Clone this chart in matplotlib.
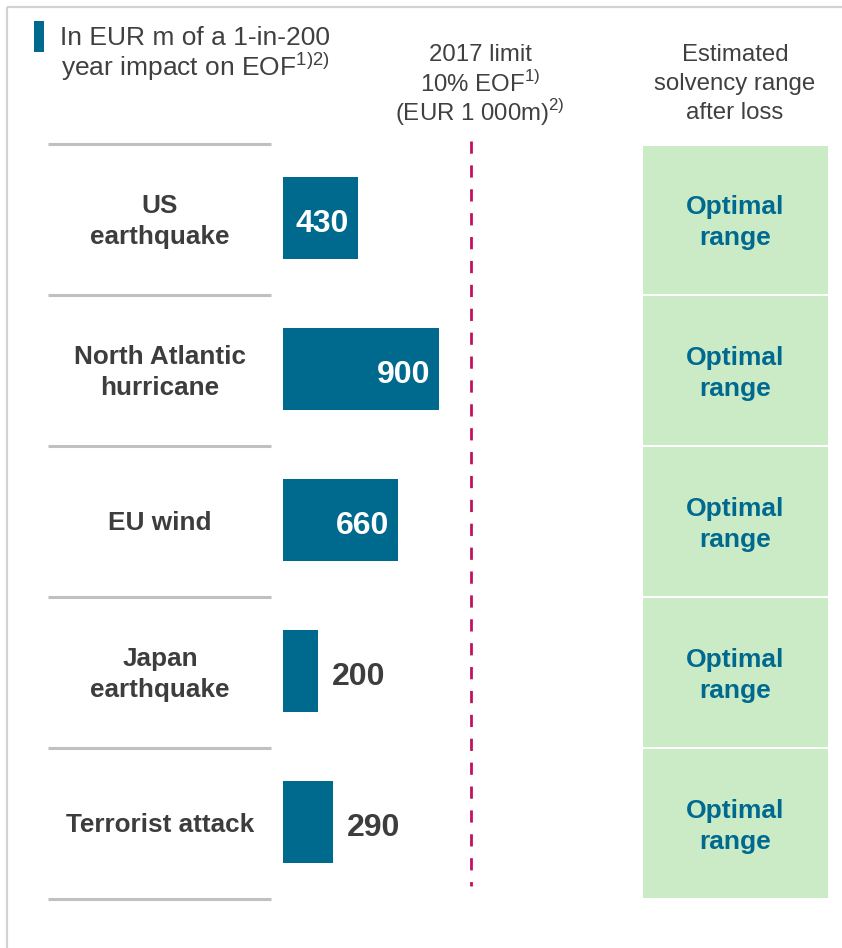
import matplotlib
matplotlib.use("Agg")
import matplotlib.pyplot as plt
from matplotlib.patches import Rectangle

# ---- data -------------------------------------------------------------
categories = ["US\nearthquake", "North Atlantic\nhurricane", "EU wind",
              "Japan\nearthquake", "Terrorist attack"]
impact_eur_m = [430, 900, 660, 200, 290]
solvency_range = ["Optimal\nrange"] * 5
limit_eur_m = 1000

# ---- styling ----------------------------------------------------------
plt.rcParams["font.family"] = ["Liberation Sans", "DejaVu Sans"]
plt.rcParams["mathtext.fontset"] = "custom"
plt.rcParams["mathtext.rm"] = "Liberation Sans"

BAR = "#006a8e"
GREEN = "#cbeac6"
TEAL_TXT = "#00698f"
DARK = "#3d3d3d"
HEAD = "#404040"
GREY_LINE = "#c0c0c0"
LIMIT = "#c2125e"

W, H = 842, 948
fig = plt.figure(figsize=(W / 100, H / 100), dpi=100)

# overlay in pixel coordinates for the layout elements
ov = fig.add_axes([0, 0, 1, 1])
ov.set_xlim(0, W)
ov.set_ylim(H, 0)
ov.axis("off")

# panel frame (top and left edges)
ov.plot([7, W], [7, 7], color="#d2d2d2", lw=1.6, solid_capstyle="butt")
ov.plot([7, 7], [7, H], color="#d2d2d2", lw=1.6, solid_capstyle="butt")

# rows
row_top, row_pitch = 144, 151
n = len(categories)
row_centers = [row_top + row_pitch * (i + 0.5) for i in range(n)]

# header texts
ov.add_patch(Rectangle((34, 21), 10, 31, color=BAR, lw=0))
header_left = ["In EUR m of a 1-in-200",
               r"year impact on EOF$^{\mathregular{1)2)}}$"]
for k, line in enumerate(header_left):
    ov.text(195, 38 + 29 * k, line, ha="center", va="center",
            fontsize=19, color=HEAD)
header_mid = ["2017 limit", r"10% EOF$^{\mathregular{1)}}$",
              r"(EUR 1 000m)$^{\mathregular{2)}}$"]
for k, line in enumerate(header_mid):
    ov.text(480, 55 + 29 * k, line, ha="center", va="center",
            fontsize=17.3, color=HEAD)
header_right = ["Estimated", "solvency range", "after loss"]
for k, line in enumerate(header_right):
    ov.text(735, 55 + 29 * k, line, ha="center", va="center",
            fontsize=17.3, color=HEAD)

# separators between rows
for i in range(n + 1):
    y = row_top + row_pitch * i
    ov.plot([48, 271], [y, y], color=GREY_LINE, lw=2.2, solid_capstyle="butt")

# category labels
for yc, cat in zip(row_centers, categories):
    ov.text(160, yc + 2, cat, ha="center", va="center", fontsize=18.8,
            fontweight="bold", color=DARK, linespacing=1.42)

# solvency-range boxes
for i, (yc, lab) in enumerate(zip(row_centers, solvency_range)):
    top = row_top + row_pitch * i + (2 if i == 0 else 1.3)
    bot = row_top + row_pitch * (i + 1) - 1.3
    ov.add_patch(Rectangle((643, top), 185, bot - top, color=GREEN, lw=0))
    ov.text(735, yc + 3, lab, ha="center", va="center", fontsize=19,
            fontweight="bold", color=TEAL_TXT, linespacing=1.42)

# limit line
ov.plot([471, 471], [141, 886], color=LIMIT, lw=2.0,
        dashes=(4.4, 4.2))

# ---- bars -------------------------------------------------------------
x0_px, px_per_unit = 283, 0.1735
ax = fig.add_axes([x0_px / W, 1 - (row_top + row_pitch * n) / H,
                   (limit_eur_m * px_per_unit) / W, row_pitch * n / H])
ax.set_xlim(0, limit_eur_m)
ax.set_ylim(n - 0.49, -0.49)
ax.axis("off")
ax.patch.set_alpha(0)

ypos = list(range(n))
ax.barh(ypos, impact_eur_m, height=82 / row_pitch, color=BAR, lw=0)
for y, v in zip(ypos, impact_eur_m):
    if v >= 400:
        ax.annotate(f"{v}", (v, y), xytext=(-6, -4.5),
                    textcoords="offset points", ha="right", va="center",
                    fontsize=23, fontweight="bold", color="white")
    else:
        ax.annotate(f"{v}", (v, y), xytext=(10, -4.5),
                    textcoords="offset points", ha="left", va="center",
                    fontsize=23, fontweight="bold", color=DARK,
                    annotation_clip=False)

fig.savefig("out.png", dpi=100)
